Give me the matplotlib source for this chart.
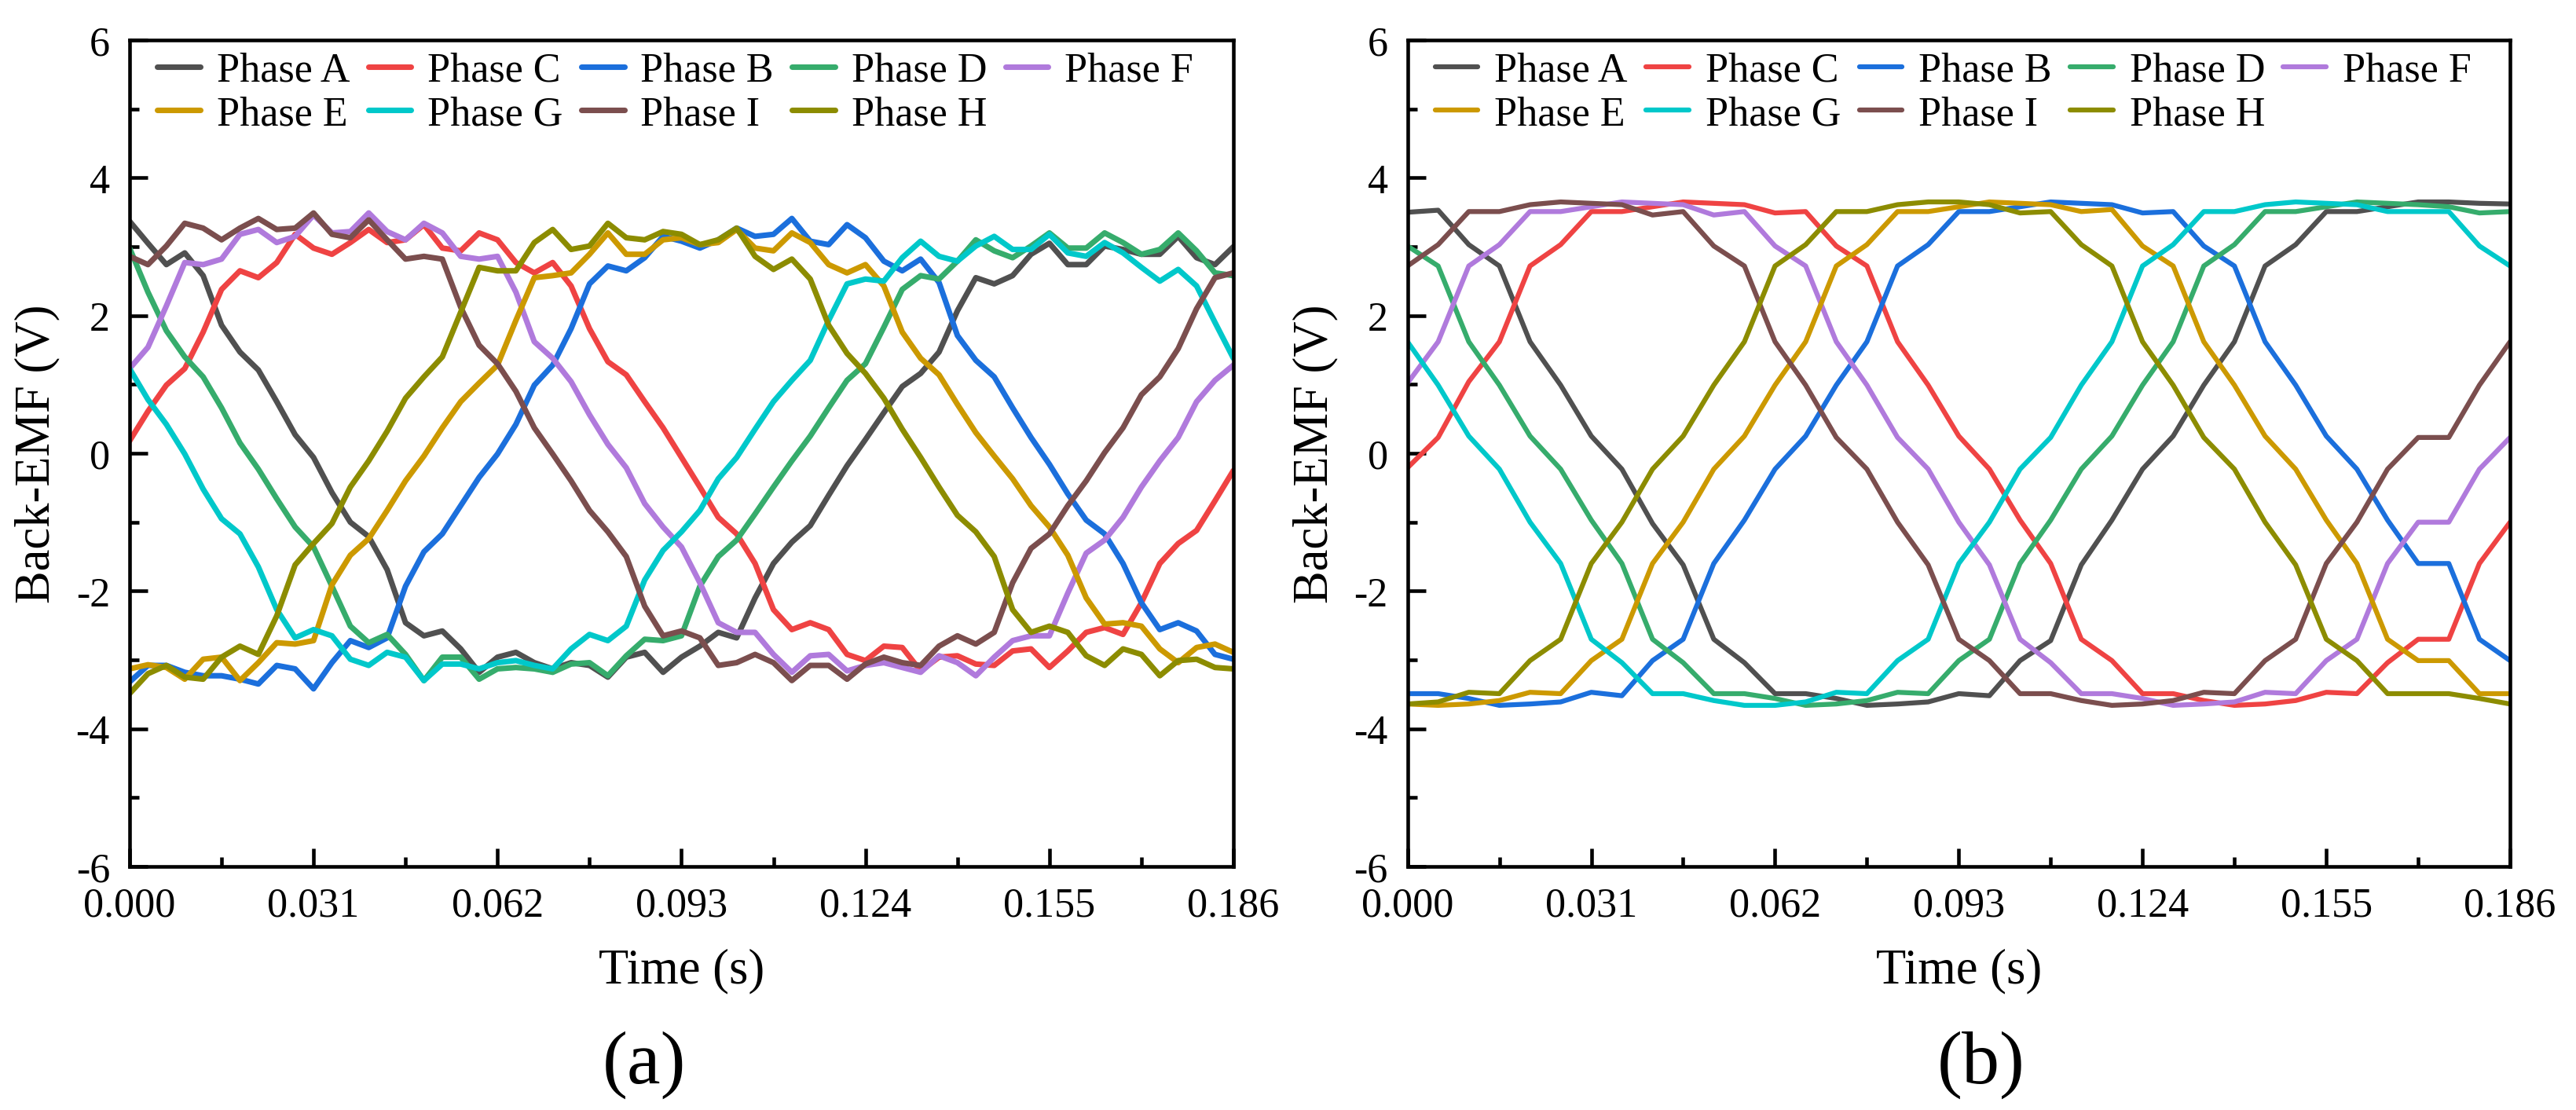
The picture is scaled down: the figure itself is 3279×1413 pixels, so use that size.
import numpy as np
import matplotlib
matplotlib.use("Agg")
import matplotlib.pyplot as plt
from matplotlib.ticker import FixedLocator

plt.rcParams['font.family'] = ['Liberation Serif', 'DejaVu Serif']
plt.rcParams['axes.unicode_minus'] = False

# ---- data: panel (a), sampled every 3.1 ms ----
t_a = np.linspace(0, 0.186, 61)
a_A = [3.37, 3.05, 2.74, 2.91, 2.58, 1.86, 1.47, 1.21, 0.75, 0.27, -0.06, -0.57, -1.0, -1.21, -1.69, -2.46,
       -2.65, -2.58, -2.84, -3.18, -2.96, -2.89, -3.04, -3.13, -3.04, -3.08, -3.25, -2.96, -2.89, -3.18, -2.96,
       -2.8, -2.6, -2.68, -2.1, -1.6, -1.29, -1.05, -0.61, -0.18, 0.2, 0.59, 0.97, 1.16, 1.47, 2.07,
       2.55, 2.46, 2.58, 2.89, 3.05, 2.74, 2.74, 3.01, 2.96, 2.89, 2.89, 3.15, 2.84, 2.74, 3.0]
a_C = [0.18, 0.61, 0.99, 1.23, 1.76, 2.38, 2.65, 2.55, 2.77, 3.18, 2.98, 2.89, 3.06, 3.25, 3.06, 3.1,
       3.32, 2.98, 2.94, 3.2, 3.1, 2.77, 2.62, 2.77, 2.43, 1.81, 1.33, 1.14, 0.75, 0.37, -0.06,
       -0.49, -0.93, -1.17, -1.6, -2.27, -2.56, -2.46, -2.56, -2.92, -3.01, -2.8, -2.82, -3.16, -2.96, -2.94,
       -3.06, -3.08, -2.87, -2.84, -3.11, -2.87, -2.6, -2.53, -2.63, -2.17, -1.6, -1.31, -1.12, -0.69, -0.25]
a_B = [-3.32, -3.08, -3.08, -3.18, -3.23, -3.23, -3.28, -3.35, -3.08, -3.13, -3.42, -3.04, -2.72, -2.82, -2.68, -1.93,
       -1.43, -1.17, -0.76, -0.35, -0.01, 0.42, 0.99, 1.28, 1.81, 2.46, 2.72, 2.65, 2.84, 3.15, 3.08,
       2.98, 3.1, 3.27, 3.15, 3.18, 3.41, 3.08, 3.03, 3.32, 3.13, 2.79, 2.65, 2.82, 2.48, 1.71,
       1.35, 1.11, 0.66, 0.23, -0.16, -0.59, -0.97, -1.17, -1.6, -2.17, -2.56, -2.46, -2.58, -2.92, -2.99]
a_D = [2.98, 2.34, 1.78, 1.4, 1.11, 0.66, 0.15, -0.23, -0.66, -1.07, -1.36, -1.93, -2.51, -2.75, -2.63, -2.92,
       -3.3, -2.96, -2.96, -3.28, -3.13, -3.11, -3.13, -3.18, -3.06, -3.04, -3.23, -2.94, -2.7, -2.72, -2.65,
       -1.93, -1.5, -1.26, -0.88, -0.49, -0.11, 0.25, 0.66, 1.06, 1.3, 1.83, 2.38, 2.58, 2.53, 2.79,
       3.1, 2.94, 2.84, 3.01, 3.2, 2.98, 2.98, 3.2, 3.06, 2.89, 2.96, 3.2, 2.94, 2.62, 2.58]
a_F = [1.23, 1.54, 2.14, 2.77, 2.74, 2.82, 3.18, 3.25, 3.06, 3.15, 3.46, 3.2, 3.22, 3.49, 3.22, 3.1,
       3.34, 3.2, 2.86, 2.82, 2.86, 2.34, 1.62, 1.38, 1.04, 0.56, 0.13, -0.21, -0.73, -1.07, -1.36,
       -1.88, -2.46, -2.6, -2.6, -2.92, -3.18, -2.94, -2.92, -3.16, -3.08, -3.04, -3.11, -3.18, -2.94, -3.04,
       -3.23, -2.96, -2.72, -2.65, -2.65, -2.03, -1.45, -1.26, -0.93, -0.49, -0.11, 0.23, 0.75, 1.06, 1.28]
a_E = [-3.13, -3.07, -3.11, -3.28, -2.99, -2.96, -3.3, -3.04, -2.75, -2.77, -2.72, -1.91, -1.48, -1.24, -0.83, -0.4,
       -0.04, 0.37, 0.75, 1.02, 1.28, 1.93, 2.55, 2.58, 2.62, 2.89, 3.2, 2.89, 2.89, 3.1, 3.13,
       3.03, 3.06, 3.25, 2.98, 2.94, 3.2, 3.06, 2.74, 2.62, 2.74, 2.43, 1.76, 1.38, 1.14, 0.71,
       0.3, -0.04, -0.37, -0.76, -1.07, -1.48, -2.1, -2.48, -2.46, -2.51, -2.84, -3.04, -2.82, -2.77, -2.89]
a_G = [1.23, 0.78, 0.42, -0.01, -0.52, -0.95, -1.17, -1.65, -2.27, -2.68, -2.56, -2.65, -2.99, -3.08, -2.89, -2.96,
       -3.3, -3.06, -3.06, -3.13, -3.04, -3.01, -3.08, -3.13, -2.84, -2.63, -2.72, -2.51, -1.84, -1.41, -1.14,
       -0.83, -0.37, -0.06, 0.35, 0.75, 1.06, 1.35, 1.93, 2.46, 2.53, 2.5, 2.84, 3.08, 2.86, 2.79,
       3.01, 3.15, 2.96, 2.96, 3.18, 2.91, 2.86, 3.06, 2.91, 2.7, 2.5, 2.67, 2.43, 1.9, 1.38]
a_I = [2.86, 2.74, 3.01, 3.34, 3.27, 3.1, 3.27, 3.41, 3.25, 3.27, 3.49, 3.18, 3.13, 3.39, 3.1, 2.82,
       2.86, 2.82, 2.12, 1.57, 1.3, 0.9, 0.37, -0.01, -0.4, -0.83, -1.14, -1.5, -2.22, -2.65, -2.58,
       -2.68, -3.08, -3.04, -2.92, -3.04, -3.3, -3.08, -3.08, -3.28, -3.06, -2.96, -3.04, -3.08, -2.8, -2.65,
       -2.77, -2.6, -1.88, -1.38, -1.17, -0.76, -0.4, 0.01, 0.37, 0.85, 1.11, 1.52, 2.1, 2.55, 2.62]
a_H = [-3.49, -3.2, -3.08, -3.25, -3.28, -2.96, -2.8, -2.92, -2.36, -1.62, -1.31, -1.02, -0.49, -0.11, 0.32, 0.8,
       1.11, 1.4, 2.05, 2.7, 2.65, 2.65, 3.06, 3.25, 2.96, 3.01, 3.34, 3.13, 3.1, 3.22, 3.18,
       3.03, 3.1, 3.27, 2.86, 2.67, 2.82, 2.53, 1.86, 1.45, 1.16, 0.8, 0.35, -0.06, -0.49, -0.9,
       -1.14, -1.5, -2.27, -2.6, -2.51, -2.6, -2.94, -3.08, -2.84, -2.92, -3.23, -3.01, -2.99, -3.11, -3.13]

# ---- data: panel (b), 37 samples ----
t_b = np.linspace(0, 0.186, 37)
b_A = [3.5, 3.53, 3.03, 2.72, 1.62, 0.99, 0.25, -0.23, -1.02, -1.62, -2.7, -3.04,
       -3.49, -3.49, -3.56, -3.66, -3.64, -3.61, -3.49, -3.52, -3.01, -2.72, -1.62, -0.97,
       -0.23, 0.25, 0.99, 1.62, 2.72, 3.03, 3.51, 3.51, 3.58, 3.65, 3.65, 3.63, 3.62]
b_C = [-0.21, 0.23, 1.04, 1.62, 2.72, 3.03, 3.51, 3.51, 3.58, 3.65, 3.63, 3.61,
       3.49, 3.51, 3.01, 2.72, 1.62, 0.99, 0.25, -0.23, -0.97, -1.6, -2.7, -3.01,
       -3.49, -3.49, -3.59, -3.66, -3.64, -3.59, -3.47, -3.49, -3.04, -2.7, -2.7, -1.6, -1.0]
b_B = [-3.49, -3.49, -3.56, -3.66, -3.64, -3.61, -3.47, -3.52, -3.01, -2.7, -1.6, -0.97,
       -0.23, 0.25, 0.99, 1.62, 2.72, 3.03, 3.51, 3.51, 3.58, 3.65, 3.63, 3.61,
       3.49, 3.51, 3.01, 2.72, 1.62, 0.99, 0.25, -0.23, -0.97, -1.6, -1.6, -2.7, -3.01]
b_D = [3.01, 2.72, 1.62, 0.99, 0.25, -0.23, -0.97, -1.6, -2.7, -3.04, -3.49, -3.49,
       -3.56, -3.66, -3.64, -3.59, -3.47, -3.49, -3.01, -2.7, -1.6, -0.97, -0.23, 0.25,
       0.99, 1.62, 2.72, 3.03, 3.51, 3.51, 3.58, 3.65, 3.63, 3.61, 3.58, 3.49, 3.51]
b_F = [1.02, 1.62, 2.72, 3.03, 3.51, 3.51, 3.58, 3.65, 3.63, 3.61, 3.46, 3.51,
       3.01, 2.72, 1.62, 0.99, 0.23, -0.23, -1.0, -1.62, -2.7, -3.04, -3.49, -3.49,
       -3.56, -3.66, -3.64, -3.61, -3.47, -3.49, -3.01, -2.7, -1.6, -1.0, -1.0, -0.23, 0.23]
b_E = [-3.64, -3.66, -3.64, -3.59, -3.47, -3.49, -3.01, -2.7, -1.6, -1.0, -0.23, 0.25,
       0.99, 1.62, 2.72, 3.03, 3.51, 3.51, 3.58, 3.65, 3.63, 3.61, 3.51, 3.54,
       3.01, 2.72, 1.62, 0.99, 0.25, -0.23, -0.97, -1.6, -2.7, -3.01, -3.01, -3.49, -3.49]
b_G = [1.62, 0.99, 0.25, -0.23, -1.0, -1.6, -2.7, -3.04, -3.49, -3.49, -3.59, -3.66,
       -3.66, -3.61, -3.47, -3.49, -3.01, -2.7, -1.6, -1.0, -0.23, 0.23, 0.99, 1.62,
       2.72, 3.03, 3.51, 3.51, 3.61, 3.65, 3.63, 3.61, 3.51, 3.51, 3.51, 3.01, 2.72]
b_I = [2.72, 3.03, 3.51, 3.51, 3.61, 3.65, 3.63, 3.61, 3.46, 3.51, 3.01, 2.72,
       1.62, 0.99, 0.23, -0.23, -1.0, -1.62, -2.7, -3.01, -3.49, -3.49, -3.59, -3.66,
       -3.64, -3.59, -3.47, -3.49, -3.01, -2.7, -1.6, -1.0, -0.23, 0.23, 0.23, 0.99, 1.62]
b_H = [-3.64, -3.61, -3.47, -3.49, -3.01, -2.7, -1.6, -1.0, -0.23, 0.25, 0.99, 1.62,
       2.72, 3.03, 3.51, 3.51, 3.61, 3.65, 3.65, 3.61, 3.49, 3.51, 3.03, 2.72,
       1.62, 0.99, 0.23, -0.23, -1.0, -1.62, -2.7, -3.01, -3.49, -3.49, -3.49, -3.56, -3.64]

# plot order (same as legend reading order)
phases = ['A', 'C', 'B', 'D', 'F', 'E', 'G', 'I', 'H']
colors = {'A': '#505050', 'C': '#EF4343', 'B': '#1B6FDC', 'D': '#36AC6C', 'F': '#B07ADC',
          'E': '#CC9900', 'G': '#00C8CA', 'I': '#7B4E4E', 'H': '#8C8C00'}
data_a = {'A': a_A, 'C': a_C, 'B': a_B, 'D': a_D, 'F': a_F, 'E': a_E, 'G': a_G, 'I': a_I, 'H': a_H}
data_b = {'A': b_A, 'C': b_C, 'B': b_B, 'D': b_D, 'F': b_F, 'E': b_E, 'G': b_G, 'I': b_I, 'H': b_H}

xticks = np.linspace(0, 0.186, 7)
xminor = (xticks[:-1] + xticks[1:]) / 2

fig = plt.figure(figsize=(3279 / 300, 1414 / 300), dpi=300)
ax1 = fig.add_axes([0.0503, 0.2192, 0.4285, 0.744])
ax2 = fig.add_axes([0.5464, 0.2192, 0.428, 0.744])


def draw_panel(ax, t, data, lw):
    lines = {}
    for p in phases:
        ln, = ax.plot(t, data[p], color=colors[p], lw=lw, label='Phase ' + p,
                      solid_joinstyle='round', solid_capstyle='round')
        lines[p] = ln
    ax.set_xlim(0, 0.186)
    ax.set_ylim(-6, 6)
    ax.set_xticks(xticks)
    ax.set_xticklabels(['%.3f' % v for v in xticks])
    ax.xaxis.set_minor_locator(FixedLocator(xminor))
    ax.set_yticks(np.arange(-6, 7, 2))
    ax.yaxis.set_minor_locator(FixedLocator(np.arange(-5, 6, 2)))
    ax.tick_params(which='both', direction='in', top=False, right=False, width=1.1, labelsize=12.5)
    ax.tick_params(which='major', length=5.5, pad=6)
    ax.tick_params(which='minor', length=2.8)
    for s in ax.spines.values():
        s.set_linewidth(1.1)
    ax.set_xlabel('Time (s)', fontsize=15)
    ax.xaxis.set_label_coords(0.5, -0.098)
    ax.set_ylabel('Back-EMF (V)', fontsize=15)
    ax.yaxis.set_label_coords(-0.063, 0.5)
    # legend fills column by column, so interleave to get the row order of the figure
    order = ['A', 'E', 'C', 'G', 'B', 'I', 'D', 'H', 'F']
    ax.legend([lines[p] for p in order], ['Phase ' + p for p in order], ncol=5,
              loc='upper left', bbox_to_anchor=(0.025, 0.986), frameon=False,
              fontsize=12.5, handlelength=1.05, handletextpad=0.4, columnspacing=0.45,
              labelspacing=0.15, borderpad=0, borderaxespad=0)


draw_panel(ax1, t_a, data_a, 1.7)
draw_panel(ax2, t_b, data_b, 1.5)

fig.text(0.25, 0.041, '(a)', fontsize=23, ha='center', va='center')
fig.text(0.769, 0.041, '(b)', fontsize=23, ha='center', va='center')

fig.savefig('out.png', dpi=300)
